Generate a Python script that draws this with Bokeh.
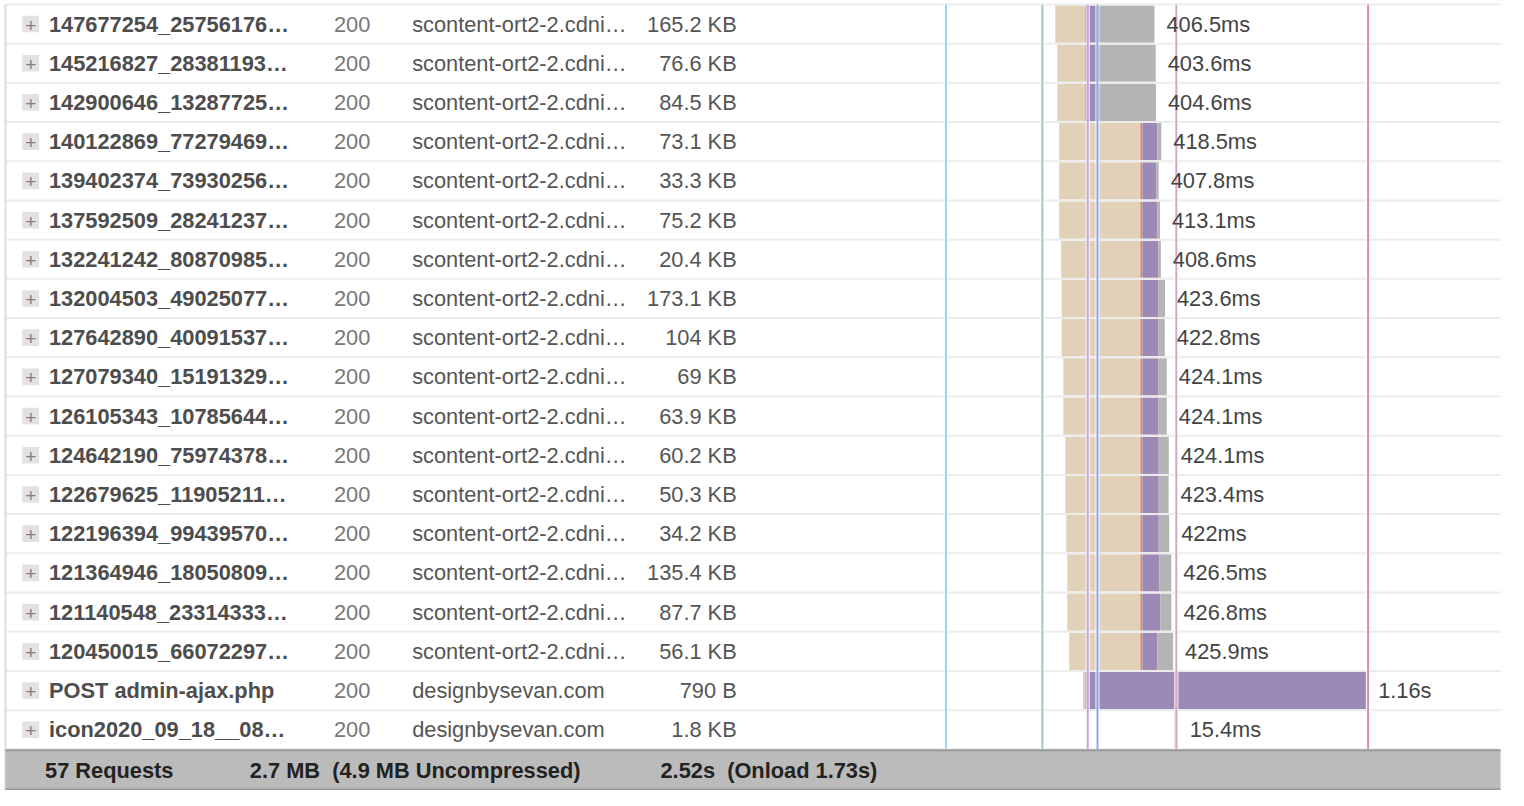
from bokeh.plotting import figure
from bokeh.models import Range1d, ColumnDataSource
from bokeh.embed import file_html
from bokeh.resources import INLINE
from bokeh.core.properties import value

# ---------------- data ----------------
names = [
    "147677254_25756176\u2026", "145216827_28381193\u2026", "142900646_13287725\u2026",
    "140122869_77279469\u2026", "139402374_73930256\u2026", "137592509_28241237\u2026",
    "132241242_80870985\u2026", "132004503_49025077\u2026", "127642890_40091537\u2026",
    "127079340_15191329\u2026", "126105343_10785644\u2026", "124642190_75974378\u2026",
    "122679625_11905211\u2026", "122196394_99439570\u2026", "121364946_18050809\u2026",
    "121140548_23314333\u2026", "120450015_66072297\u2026", "POST admin-ajax.php",
    "icon2020_09_18__08\u2026",
]
statuses = ["200"] * 19
domains = ["scontent-ort2-2.cdni\u2026"] * 17 + ["designbysevan.com", "designbysevan.com"]
sizes = ["165.2 KB", "76.6 KB", "84.5 KB", "73.1 KB", "33.3 KB", "75.2 KB", "20.4 KB",
         "173.1 KB", "104 KB", "69 KB", "63.9 KB", "60.2 KB", "50.3 KB", "34.2 KB",
         "135.4 KB", "87.7 KB", "56.1 KB", "790 B", "1.8 KB"]
time_labels = ["406.5ms", "403.6ms", "404.6ms", "418.5ms", "407.8ms", "413.1ms", "408.6ms",
               "423.6ms", "422.8ms", "424.1ms", "424.1ms", "424.1ms", "423.4ms", "422ms",
               "426.5ms", "426.8ms", "425.9ms", "1.16s", "15.4ms"]

start_ms     = [448, 456, 456, 464, 464, 464, 472, 474, 474, 481, 481, 489, 489, 493, 497, 497, 505, 562, 934]
blocked_ms   = [122, 114, 114, 333, 333, 333, 325, 323, 323, 316, 316, 308, 308, 304, 300, 300, 292, 8, 8]
sending_ms   = [0, 0, 0, 8, 8, 8, 8, 8, 8, 8, 8, 8, 8, 8, 8, 8, 8, 0, 0]
waiting_ms   = [61, 61, 61, 61, 57, 61, 65, 65, 66, 66, 66, 67, 67, 67, 70, 74, 61, 1152, 7.4]
receiving_ms = [223.5, 228.6, 229.6, 16.5, 9.8, 11.1, 10.6, 27.6, 25.8, 34.1, 34.1, 41.1,
                40.4, 43, 48.5, 44.8, 64.9, 0, 0]

marker_ms = [0, 395, 581, 621, 944, 1730]
marker_colors = ["#94d6f7", "#9cc8c8", "#c9a2e2", "#8ea8ee", "#d8a6c6", "#d98bac"]

footer_texts = ["57 Requests", "2.7 MB\u00a0 (4.9 MB Uncompressed)", "2.52s\u00a0 (Onload 1.73s)"]

# ---------------- layout ----------------
W, H = 1508, 790                 # drawn size
REF_W, REF_H = 1524, 806         # layout space (reference pixels)
T0_PX = 955.5                    # layout x of t = 0
PX_PER_MS = 0.2466
ROW0_PX = 24.0                   # layout y of first row centre
ROW_PX = 40.0

n = len(names)
rows = list(range(n))

p = figure(width=W, height=H, output_backend="svg", toolbar_location=None,
           x_axis_location=None, y_axis_location=None, min_border=0,
           x_range=Range1d(0, REF_W),
           y_range=Range1d((REF_H - ROW0_PX) / ROW_PX, (0 - ROW0_PX) / ROW_PX))
p.extra_x_ranges = {"time": Range1d((0 - T0_PX) / PX_PER_MS, (REF_W - T0_PX) / PX_PER_MS)}
p.grid.visible = False
p.outline_line_color = None
p.background_fill_color = "white"
p.border_fill_color = "white"

FONT = value("Liberation Sans")
FS = "21.8px"

# phase bars
phases = [(blocked_ms, "#e1d1b9"), (sending_ms, "#e2805e"),
          (waiting_ms, "#9b8ab6"), (receiving_ms, "#b4b4b4")]
left = list(start_ms)
for durs, col in phases:
    right = [l + d for l, d in zip(left, durs)]
    keep = [i for i in rows if durs[i] > 0]
    src = ColumnDataSource(dict(y=[rows[i] for i in keep], l=[left[i] for i in keep],
                                r=[right[i] for i in keep]))
    p.hbar(y="y", left="l", right="r", height=0.95, source=src, fill_color=col,
           line_color=None, x_range_name="time")
    left = right
ends = left

# row separators
sep_y = [i - 0.5 for i in range(n + 1)]
p.segment(x0=[5] * len(sep_y), x1=[1516] * len(sep_y), y0=sep_y, y1=sep_y,
          line_color="#ececec", line_width=2)
# left border
p.segment(x0=[5], x1=[5], y0=[-0.5], y1=[n + 0.55], line_color="#dcdcdc", line_width=2)

# vertical timeline markers with white halo
p.segment(x0=marker_ms, x1=marker_ms, y0=[-0.5] * len(marker_ms), y1=[n - 0.5] * len(marker_ms),
          line_color="white", line_alpha=0.7, line_width=4.5, x_range_name="time")
p.segment(x0=marker_ms, x1=marker_ms, y0=[-0.5] * len(marker_ms), y1=[n - 0.5] * len(marker_ms),
          line_color=marker_colors, line_width=2, x_range_name="time")

# expand boxes
p.rect(x=[30.5] * n, y=rows, width=17, height=17 / ROW_PX, fill_color="#e2e2e2", line_color=None)
p.text(x=[30.5] * n, y=rows, text=["+"] * n, text_font=FONT, text_font_size="19px",
       text_color="#808080", text_align="center", text_baseline="middle", y_offset=1)

# table text
p.text(x=[49] * n, y=rows, text=names, text_font=FONT, text_font_size=FS,
       text_font_style="bold", text_color="#4d4d4d", text_baseline="middle")
p.text(x=[337] * n, y=rows, text=statuses, text_font=FONT, text_font_size=FS,
       text_color="#777777", text_baseline="middle")
p.text(x=[416] * n, y=rows, text=domains, text_font=FONT, text_font_size=FS,
       text_color="#555555", text_baseline="middle")
p.text(x=[744] * n, y=rows, text=sizes, text_font=FONT, text_font_size=FS,
       text_color="#555555", text_align="right", text_baseline="middle")

# duration labels after each bar
p.text(x=ends, y=rows, text=time_labels, text_font=FONT, text_font_size=FS,
       text_color="#444444", text_baseline="middle", x_offset=12,
       x_range_name="time")

# footer
fy0 = n - 0.475
fy1 = n + 0.525
p.quad(left=[5], right=[1516], bottom=[fy1], top=[fy0], fill_color="#bbbbbb", line_color=None)
p.segment(x0=[5, 5], x1=[1516, 1516], y0=[fy0, fy1], y1=[fy0, fy1],
          line_color="#999999", line_width=2)
p.text(x=[45, 252, 667], y=[n + 0.04] * 3, text=footer_texts, text_font=FONT,
       text_font_size=FS, text_font_style="bold", text_color="#222222",
       text_baseline="middle")

open("out.html", "w").write(file_html(p, INLINE))
